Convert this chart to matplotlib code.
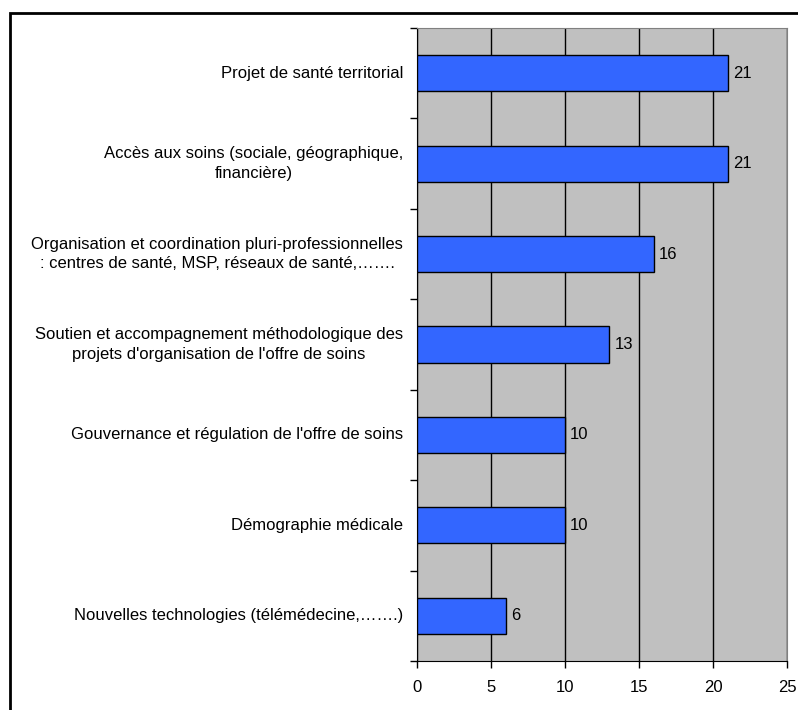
import matplotlib.pyplot as plt
from matplotlib.patches import Rectangle
import numpy as np

# Thèmes et nombre de réponses
themes = [
    "Projet de santé territorial",
    "Accès aux soins (sociale, géographique,\nfinancière)",
    "Organisation et coordination pluri-professionnelles\n: centres de santé, MSP, réseaux de santé,…….",
    "Soutien et accompagnement méthodologique des\nprojets d'organisation de l'offre de soins",
    "Gouvernance et régulation de l'offre de soins",
    "Démographie médicale",
    "Nouvelles technologies (télémédecine,…….)",
]
valeurs = [21, 21, 16, 13, 10, 10, 6]
graduations = [0, 5, 10, 15, 20, 25]

plt.rcParams['font.family'] = ['Liberation Sans', 'DejaVu Sans']
TAILLE = 12

fig = plt.figure(figsize=(7.98, 7.10), dpi=100)
ax = fig.add_axes([417/798, 1 - 661/710, 370/798, 633/710])

pos = np.arange(len(themes))
ax.barh(pos, valeurs, height=0.4, color='#3366FF', edgecolor='black',
        linewidth=1, zorder=3)

for p, v in zip(pos, valeurs):
    ax.text(v + 0.35, p, str(v), va='center', ha='left', fontsize=TAILLE)

ax.set_facecolor('#C0C0C0')
ax.set_xlim(0, 25)
ax.set_ylim(len(themes) - 0.5, -0.5)
ax.set_xticks(graduations)
ax.set_xticklabels([str(g) for g in graduations], fontsize=TAILLE)
ax.xaxis.grid(True, color='black', linewidth=1)
ax.set_axisbelow(True)

ax.set_yticks(pos)
ax.set_yticklabels(themes, fontsize=TAILLE, multialignment='center',
                   linespacing=1.4, va='center')
ax.set_yticks(np.arange(len(themes) + 1) - 0.5, minor=True)
ax.tick_params(axis='y', which='major', length=0, pad=10)
ax.tick_params(axis='y', which='minor', length=5, width=1, direction='out')
ax.tick_params(axis='x', length=5, width=1, direction='out', pad=9)

for s in ['top', 'right']:
    ax.spines[s].set_color('#808080')
for s in ['left', 'bottom']:
    ax.spines[s].set_color('black')

# cadre extérieur
fig.patches.append(Rectangle((10/798, -0.1), 1.2, 1.1 - 12.5/710,
                             transform=fig.transFigure, fill=False,
                             edgecolor='black', linewidth=2, clip_on=False))

fig.savefig('out.png', dpi=100)
